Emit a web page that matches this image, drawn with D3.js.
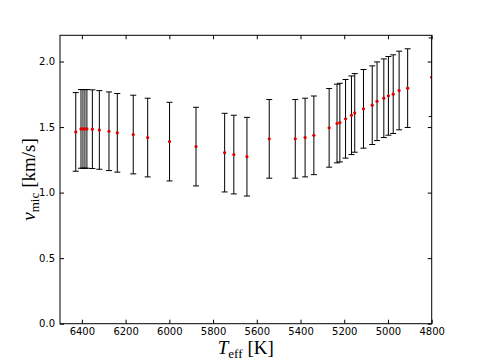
<!DOCTYPE html>
<html>
<head>
<meta charset="utf-8">
<script src="https://cdn.jsdelivr.net/npm/d3@7"></script>
<style>
  body { margin: 0; background: #fff; }
  svg { display: block; }
  .tick text { font-family: "DejaVu Sans", sans-serif; font-size: 10px; fill: #000; }
  .tick line { stroke: #000; }
  .lab { font-family: "Liberation Serif", "DejaVu Serif", serif; font-size: 19px; fill: #000; }
</style>
</head>
<body>
<script>
// effective temperature [K] and microturbulence [km/s]
var teff = [6428, 6404, 6395, 6386, 6377, 6352, 6320, 6276, 6238, 6165, 6099, 5999,
            5878, 5747, 5705, 5645, 5543, 5424, 5379, 5339, 5269, 5233, 5220, 5194,
            5167, 5152, 5112, 5072, 5050, 5019, 4998, 4976, 4949, 4910, 4800];
var vmic = [1.463, 1.486, 1.486, 1.486, 1.486, 1.484, 1.478, 1.468, 1.456, 1.443, 1.420, 1.389,
            1.351, 1.305, 1.290, 1.274, 1.410, 1.410, 1.420, 1.437, 1.494, 1.527, 1.534, 1.563,
            1.590, 1.608, 1.639, 1.667, 1.697, 1.720, 1.738, 1.751, 1.779, 1.797, 1.880];
var verr = [0.30, 0.30, 0.30, 0.30, 0.30, 0.30, 0.30, 0.30, 0.30, 0.30, 0.30, 0.30,
            0.30, 0.30, 0.30, 0.30, 0.30, 0.30, 0.30, 0.30, 0.30, 0.30, 0.30, 0.30,
            0.30, 0.30, 0.30, 0.30, 0.30, 0.30, 0.30, 0.30, 0.30, 0.30, 0.30];
var xTicks = [6400, 6200, 6000, 5800, 5600, 5400, 5200, 5000, 4800];
var yTicks = [0.0, 0.5, 1.0, 1.5, 2.0];

var W = 480, H = 360;
var margin = {left: 60, right: 48.3, top: 35.3, bottom: 36.3};
var w = W - margin.left - margin.right,
    h = H - margin.top - margin.bottom;

var svg = d3.select("body").append("svg")
    .attr("width", W)
    .attr("height", H);

var g = svg.append("g")
    .attr("transform", "translate(" + margin.left + "," + margin.top + ")");

var x = d3.scaleLinear().domain([6500, 4800]).range([0, w]);
var y = d3.scaleLinear().domain([0, 2.2]).range([h, 0]);

g.append("clipPath").attr("id", "clip")
  .append("rect").attr("width", w).attr("height", h);

var data = teff.map(function(t, i) { return {t: t, v: vmic[i], e: verr[i]}; });

var marks = g.append("g").attr("clip-path", "url(#clip)");

// error bars
var bars = marks.selectAll(".eb").data(data).enter().append("g").attr("class", "eb");
bars.append("line")
    .attr("x1", function(d) { return x(d.t); })
    .attr("x2", function(d) { return x(d.t); })
    .attr("y1", function(d) { return y(d.v - d.e); })
    .attr("y2", function(d) { return y(d.v + d.e); })
    .attr("stroke", "#000").attr("stroke-width", 1);
[-1, 1].forEach(function(s) {
  bars.append("line")
      .attr("x1", function(d) { return x(d.t) - 3; })
      .attr("x2", function(d) { return x(d.t) + 3; })
      .attr("y1", function(d) { return y(d.v + s * d.e); })
      .attr("y2", function(d) { return y(d.v + s * d.e); })
      .attr("stroke", "#000").attr("stroke-width", 1);
});

marks.selectAll(".pt").data(data).enter().append("circle")
    .attr("class", "pt")
    .attr("cx", function(d) { return x(d.t); })
    .attr("cy", function(d) { return y(d.v); })
    .attr("r", 1.6)
    .attr("fill", "#e00000");

// axes, ticks inside on all four sides
g.append("g").attr("transform", "translate(0," + h + ")")
    .call(d3.axisBottom(x).tickValues(xTicks).tickSizeInner(-4).tickSizeOuter(0).tickPadding(4.5)
          .tickFormat(d3.format("d")));
g.append("g")
    .call(d3.axisTop(x).tickValues(xTicks).tickSizeInner(-4).tickSizeOuter(0).tickFormat(""));
g.append("g")
    .call(d3.axisLeft(y).tickValues(yTicks).tickSizeInner(-4).tickSizeOuter(0).tickPadding(5)
          .tickFormat(d3.format(".1f")));
g.append("g").attr("transform", "translate(" + w + ",0)")
    .call(d3.axisRight(y).tickValues(yTicks).tickSizeInner(-4).tickSizeOuter(0).tickFormat(""));
g.selectAll(".domain").remove();

g.append("rect")
    .attr("width", w).attr("height", h)
    .attr("fill", "none").attr("stroke", "#000").attr("stroke-width", 1);

// axis labels
var xl = svg.append("text").attr("class", "lab")
    .attr("x", margin.left + w / 2).attr("y", 354)
    .attr("text-anchor", "middle");
xl.append("tspan").attr("font-style", "italic").text("T");
xl.append("tspan").attr("font-size", "13px").attr("dy", 4).text("eff");
xl.append("tspan").attr("dy", -4).attr("dx", 5).text("[K]");

var yl = svg.append("text").attr("class", "lab")
    .attr("transform", "translate(" + 35 + "," + (margin.top + h / 2) + ") rotate(-90)")
    .attr("text-anchor", "middle");
yl.append("tspan").attr("font-style", "italic").text("v");
yl.append("tspan").attr("font-size", "13px").attr("dy", 4).text("mic");
yl.append("tspan").attr("dy", -4).attr("dx", 5).text("[km/s]");
</script>
</body>
</html>
